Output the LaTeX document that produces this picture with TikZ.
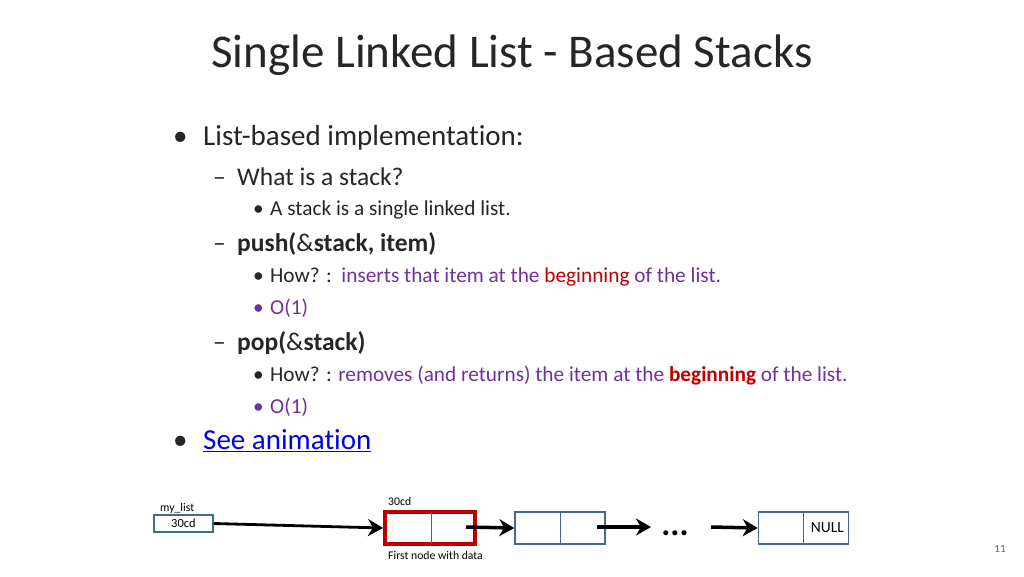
\documentclass[tikz,border=0pt]{standalone}
\usepackage{fontspec}
\setmainfont[RawFeature=-liga]{Carlito}
\usetikzlibrary{arrows.meta}
\definecolor{pur}{RGB}{112,48,160}
\definecolor{dred}{RGB}{192,0,0}
\definecolor{bx}{RGB}{65,105,150}
\definecolor{lnk}{RGB}{0,0,238}
\newcommand{\bA}{\makebox[30pt][l]{•}}
\newcommand{\bB}{\makebox[24pt][l]{–}}
\newcommand{\bC}{\makebox[17pt][l]{•}}
\begin{document}
\begin{tikzpicture}[x=1pt,y=-1pt,
  t/.style={anchor=west,inner sep=0pt,text=black!85},
  l1/.style={t,font=\fontsize{29}{33}\selectfont},
  l2/.style={t,font=\fontsize{25.5}{29}\selectfont},
  l3/.style={t,font=\fontsize{21.3}{25}\selectfont},
  cell/.style={draw=bx,line width=1.5pt,minimum height=32pt,minimum width=90pt,inner sep=0pt},
  arr/.style={line width=3.5pt,-{Stealth[length=15pt,width=17pt]}},
  sm/.style={inner sep=0pt,font=\fontsize{11.7}{13}\selectfont}]
\useasboundingbox (0,0) rectangle (1024,576);
\node[inner sep=0pt,text=black!85,font=\fontsize{47}{52}\selectfont] (title) at (512,55) {Single Linked List - Based Stacks};
\node[l1] (a) at (173,138) {\bA List-based implementation:};
\node[l2] (b) at (213,177) {\bB What is a stack?};
\node[l3] (c) at (253,210) {\bC A stack is a single linked list.};
\node[l2] (d) at (213,244) {\bB\textbf{push(}\&\textbf{stack, item)}};
\node[l3] (e) at (253,277) {\bC How? :\ \ \textcolor{pur}{inserts that item at the}~\textcolor{dred}{beginning}~\textcolor{pur}{of the list.}};
\node[l3] (f) at (253,308) {\textcolor{pur}{\bC O(1)}};
\node[l2] (g) at (213,343) {\bB\textbf{pop(}\&\textbf{stack)}};
\node[l3] (h) at (253,376) {\bC How? : \textcolor{pur}{removes (and returns) the item at the}~\textcolor{dred}{\textbf{beginning}}~\textcolor{pur}{of the list.}};
\node[l3] (i) at (253,407) {\textcolor{pur}{\bC O(1)}};
\node[l1] (j) at (173,441) {\bA\textcolor{lnk}{\underline{See animation}}};
% diagram
\node[draw=bx,line width=1.5pt,minimum width=59pt,minimum height=17pt,inner sep=0pt,font=\fontsize{12.5}{14}\selectfont] (ml) at (183.5,523.5) {30cd};
\node[sm,anchor=west] (mll) at (160,508) {my\_list};
\node[cell,draw=dred,line width=4pt] (n1) at (430,528) {};
\draw[bx,line width=0.8pt] (431,513) -- (431,543);
\node[sm,anchor=west] (n1a) at (388,501) {30cd};
\node[sm,anchor=west] (n1b) at (388,555) {First node with data};
\node[cell] (n2) at (560,528) {};
\draw[bx,line width=0.8pt] (560,513) -- (560,543);
\node[cell] (n3) at (803.5,528) {};
\draw[bx,line width=0.8pt] (803,513) -- (803,543);
\node[inner sep=0pt,anchor=east,font=\fontsize{15.5}{17}\selectfont] (null) at (844,528) {NULL};
\node[inner sep=0pt,font=\bfseries\fontsize{34}{34}\selectfont] (dots) at (675,533) {...};
\coordinate (s1) at (466,527);
\coordinate (s2) at (597,527);
\coordinate (s3) at (651,527);
\coordinate (s4) at (711,527);
\draw[arr,line width=2.8pt] (ml.east) -- (n1.west);
\draw[arr] (s1) -- (n2.west);
\draw[arr] (s2) -- (s3);
\draw[arr] (s4) -- (n3.west);
\node[inner sep=0pt,text=black!60,font=\fontsize{11}{13}\selectfont] (pg) at (1000,549) {11};
\end{tikzpicture}
\end{document}
